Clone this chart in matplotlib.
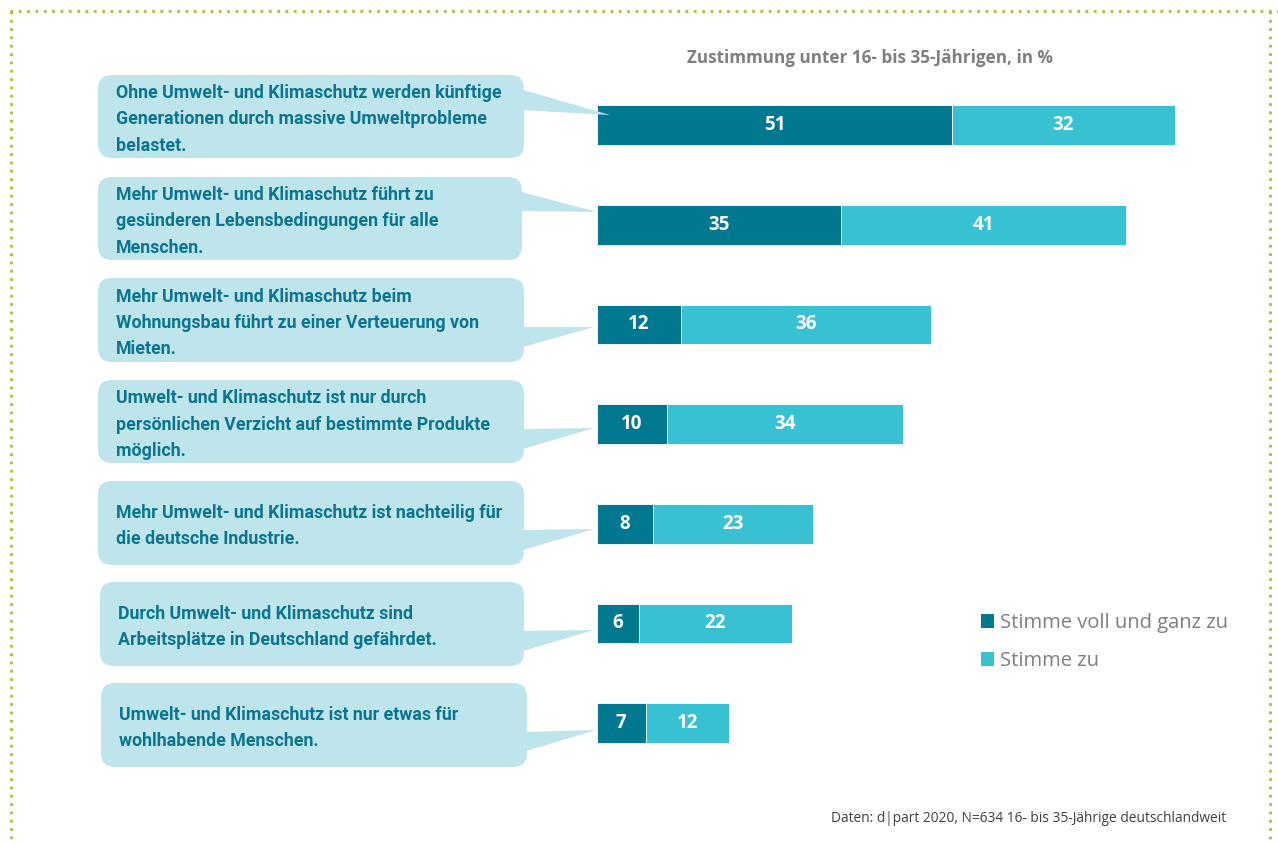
import matplotlib.pyplot as plt
from matplotlib.patches import FancyBboxPatch, Polygon, Patch

# data
statements = [
    "Ohne Umwelt- und Klimaschutz werden künftige\nGenerationen durch massive Umweltprobleme\nbelastet.",
    "Mehr Umwelt- und Klimaschutz führt zu\ngesünderen Lebensbedingungen für alle\nMenschen.",
    "Mehr Umwelt- und Klimaschutz beim\nWohnungsbau führt zu einer Verteuerung von\nMieten.",
    "Umwelt- und Klimaschutz ist nur durch\npersönlichen Verzicht auf bestimmte Produkte\nmöglich.",
    "Mehr Umwelt- und Klimaschutz ist nachteilig für\ndie deutsche Industrie.",
    "Durch Umwelt- und Klimaschutz sind\nArbeitsplätze in Deutschland gefährdet.",
    "Umwelt- und Klimaschutz ist nur etwas für\nwohlhabende Menschen.",
]
voll = [51, 35, 12, 10, 8, 6, 7]
zu = [32, 41, 36, 34, 23, 22, 12]
series_names = ["Stimme voll und ganz zu", "Stimme zu"]

dark = "#00788F"
light = "#38C1D3"
bubble_col = "#BEE5EC"
bubble_txt = "#0B7590"
gray = "#7F7F7F"
border_col = "#A9BE3C"

W, H = 1278, 843
fig = plt.figure(figsize=(W / 100, H / 100), dpi=100)

# bar axes (percent scale)
ax = fig.add_axes([597 / W, (H - 773) / H, 626.4 / W, 697.7 / H])
ax.set_xlim(0, 90)
ax.set_ylim(6.5, -0.5)
ax.axis("off")
y = list(range(len(voll)))
b1 = ax.barh(y, voll, height=0.4, color=dark, edgecolor="white", linewidth=0.6)
b2 = ax.barh(y, zu, left=voll, height=0.4, color=light, edgecolor="white", linewidth=0.6)
for bars in (b1, b2):
    ax.bar_label(bars, label_type="center", color="white", fontsize=13.5,
                 fontweight="bold", family="Open Sans")

# decoration layer in pixel coords
deco = fig.add_axes([0, 0, 1, 1], zorder=3)
deco.set_xlim(0, W)
deco.set_ylim(H, 0)
deco.axis("off")
deco.patch.set_alpha(0)

# dotted frame
dot = dict(color=border_col, lw=2, linestyle=(0, (1, 2)))
deco.plot([10, 1278], [11, 11], **dot)
deco.plot([11, 11], [11, 843], **dot)
deco.plot([1270, 1270], [11, 843], **dot)

boxes = [(98, 75, 524, 158), (98, 177, 522, 260), (98, 278, 524, 362),
         (98, 380, 524, 463), (98, 481, 524, 565), (100, 582, 524, 666),
         (101, 683, 527, 767)]
pointers = [[(520, 89), (520, 110), (610, 115)],
            [(518, 191), (518, 211), (597, 212)],
            [(520, 327), (520, 348), (594, 327)],
            [(520, 429), (520, 450), (594, 428)],
            [(520, 530), (520, 551), (594, 529)],
            [(520, 631), (520, 652), (594, 630)],
            [(523, 732), (523, 752), (596, 730)]]

for (x0, y0, x1, y1), tri, txt in zip(boxes, pointers, statements):
    deco.add_patch(FancyBboxPatch((x0, y0), x1 - x0, y1 - y0,
                                  boxstyle="round,pad=0,rounding_size=14",
                                  fc=bubble_col, ec="none"))
    deco.add_patch(Polygon(tri, closed=True, fc=bubble_col, ec="none"))
    deco.text(x0 + 18, (y0 + y1) / 2 + 3, txt, va="center", ha="left",
              color=bubble_txt, fontsize=12.8, fontweight="bold",
              fontstretch="condensed", family="Roboto", linespacing=1.6)

deco.text(870, 58, "Zustimmung unter 16- bis 35-Jährigen, in %", ha="center",
          va="center", color=gray, fontsize=12.3, fontweight="bold", family="Open Sans")
deco.text(1226, 818, "Daten: d|part 2020, N=634 16- bis 35-Jährige deutschlandweit",
          ha="right", va="center", color="#404040", fontsize=9.9, family="Open Sans")

handles = [Patch(fc=dark, ec="none"), Patch(fc=light, ec="none")]
fig.legend(handles, series_names, loc="upper left",
           bbox_to_anchor=(963 / W, 1 - 595 / H), frameon=False,
           labelcolor=gray, handlelength=0.65, handleheight=0.65,
           handletextpad=0.3, labelspacing=0.9, prop={"family": "Open Sans", "size": 14.5})

fig.savefig("out.png", dpi=100)
